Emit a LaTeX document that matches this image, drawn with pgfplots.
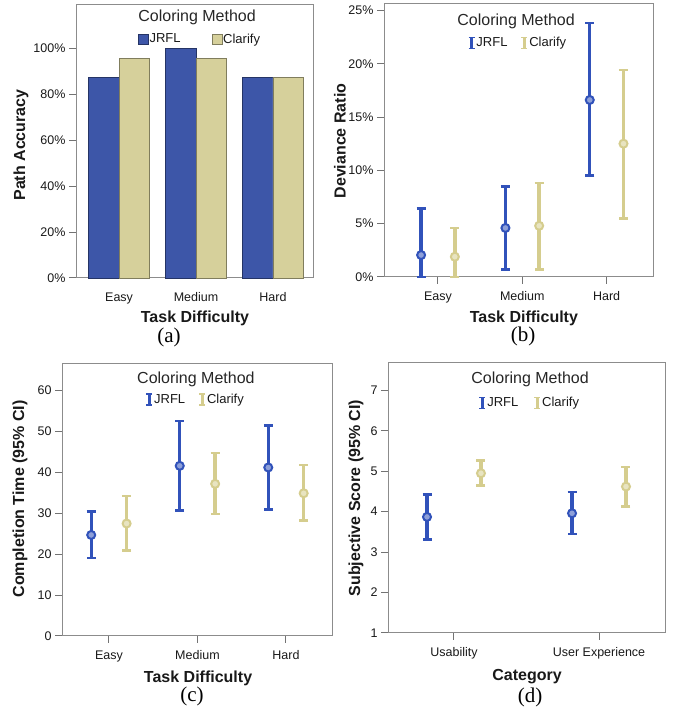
\documentclass[border=0pt]{standalone}
\usepackage{fontspec}
\setmainfont{Liberation Sans}
\newfontfamily\capfont{Liberation Serif}
\usepackage{pgfplots}
\pgfplotsset{compat=1.18}
\usepackage{pgfplotstable}

\definecolor{jrfl}{HTML}{3D56A8}
\definecolor{clar}{HTML}{D6D09B}
\definecolor{jrfleb}{HTML}{3152BA}
\definecolor{clareb}{HTML}{D5CD8E}
\definecolor{boxgray}{HTML}{8C8C8C}

% x = category position +- offset, ep/em = distance to upper/lower CI bound
\pgfplotstableread{
x     y     ep    em
-0.2  2.06  4.34  2.06
0.8   4.6   3.9   3.9
1.8   16.6  7.2   7.1
}\devJ
\pgfplotstableread{
x     y     ep    em
0.2   1.9   2.7   1.9
1.2   4.8   4.0   4.1
2.2   12.5  6.9   7.0
}\devC
\pgfplotstableread{
x     y     ep    em
-0.2  24.7  5.7   5.6
0.8   41.6  11.0  10.9
1.8   41.2  10.3  10.3
}\timeJ
\pgfplotstableread{
x     y     ep    em
0.2   27.5  6.7   6.6
1.2   37.2  7.5   7.4
2.2   34.9  6.9   6.7
}\timeC
\pgfplotstableread{
x       y     ep    em
-0.186  3.87  0.56  0.56
0.814   3.96  0.52  0.51
}\scoreJ
\pgfplotstableread{
x       y     ep    em
0.186   4.95  0.32  0.30
1.186   4.62  0.49  0.49
}\scoreC

\tikzset{ctitle/.style={font=\fontsize{16}{18}\selectfont, text=black!85}}

\pgfplotsset{
  panel/.style={
    scale only axis, clip=false,
    axis line style={boxgray, line width=1pt},
    tick align=outside, ytick pos=left, xtick pos=bottom,
    major tick length=7pt,
    tick style={black!55, line width=1pt},
    ticklabel style={font=\fontsize{12.5}{14}\selectfont, text=black!90},
    xticklabel style={yshift=-4pt},
    label style={font=\bfseries\fontsize{16}{19}\selectfont, text=black!90},
    /pgf/number format/assume math mode=true,
    xtick={0,1,2},
    legend style={draw=none, fill=none, legend columns=2, anchor=center,
      font=\fontsize{13}{15}\selectfont, text=black!90, nodes={inner sep=1pt}},
  },
  eb/.style={only marks, mark=*, mark size=4pt,
    mark options={draw=#1, fill=#1!55!white, line width=2pt},
    error bars/y dir=both, error bars/y explicit,
    error bars/error bar style={#1, line width=3.4pt},
    error bars/error mark options={#1, rotate=90, mark size=4.5pt, line width=2.5pt},
    legend image code/.code={
      \draw[#1, line width=2.8pt] (0pt,-5.5pt) -- (0pt,5.5pt);
      \draw[#1, line width=1.8pt] (-3pt,-5.5pt) -- (3pt,-5.5pt) (-3pt,5.5pt) -- (3pt,5.5pt);}},
  barleg/.style={legend image code/.code={
    \filldraw[fill=#1, draw=#1!60!black, line width=0.6pt] (0pt,-5pt) rectangle (10pt,5pt);}},
}

\begin{document}
\begin{tikzpicture}
\useasboundingbox (0pt,0pt) rectangle (676pt,719pt);

% (a) path accuracy
\begin{axis}[panel, at={(76pt,441pt)}, anchor=south west,
  width=237pt, height=273pt,
  ybar=0pt, bar width=30.5pt,
  xmin=-0.56, xmax=2.52, ymin=0, ymax=119,
  ytick={0,20,...,100}, yticklabels={0\%,20\%,40\%,60\%,80\%,100\%},
  xticklabels={Easy,Medium,Hard}, xtick style={draw=none},
  xlabel={Task Difficulty}, ylabel={Path Accuracy},
  xlabel style={at={(axis description cs:0.502,-0.147)}, anchor=center},
  ylabel style={at={(axis description cs:-0.232,0.487)}, anchor=center},
  legend style={at={(axis description cs:0.521,0.875)},
    /tikz/every even column/.append style={column sep=30pt}}]
\addplot[fill=jrfl, draw=jrfl!60!black, barleg=jrfl] coordinates {(0,87.5) (1,100) (2,87.5)};
\addplot[fill=clar, draw=clar!60!black, barleg=clar] coordinates {(0,95.8) (1,95.8) (2,87.5)};
\legend{JRFL, Clarify}
\node[ctitle] at (axis description cs:0.511,0.956) {Coloring Method};
\end{axis}

% (b) deviance ratio
\begin{axis}[panel, at={(384pt,442pt)}, anchor=south west,
  width=269pt, height=273pt,
  xmin=-0.64, xmax=2.55, ymin=0, ymax=25.6,
  ytick={0,5,...,25}, yticklabels={0\%,5\%,10\%,15\%,20\%,25\%},
  xticklabels={Easy,Medium,Hard},
  xlabel={Task Difficulty}, ylabel={Deviance Ratio},
  xlabel style={at={(axis description cs:0.520,-0.150)}, anchor=center},
  ylabel style={at={(axis description cs:-0.164,0.498)}, anchor=center},
  legend style={at={(axis description cs:0.496,0.857)},
    /tikz/every even column/.append style={column sep=12pt}}]
\addplot[eb=jrfleb] table[x=x, y=y, y error plus=ep, y error minus=em] {\devJ};
\addplot[eb=clareb] table[x=x, y=y, y error plus=ep, y error minus=em] {\devC};
\legend{JRFL, Clarify}
\node[ctitle] at (axis description cs:0.491,0.938) {Coloring Method};
\end{axis}

% (c) completion time
\begin{axis}[panel, at={(62pt,83pt)}, anchor=south west,
  width=270pt, height=272pt,
  xmin=-0.53, xmax=2.52, ymin=0, ymax=66.5,
  ytick={0,10,...,60},
  xticklabels={Easy,Medium,Hard},
  xlabel={Task Difficulty}, ylabel={Completion Time (95\% CI)},
  xlabel style={at={(axis description cs:0.504,-0.154)}, anchor=center},
  ylabel style={at={(axis description cs:-0.156,0.504)}, anchor=center},
  legend style={at={(axis description cs:0.493,0.868)},
    /tikz/every even column/.append style={column sep=12pt}}]
\addplot[eb=jrfleb] table[x=x, y=y, y error plus=ep, y error minus=em] {\timeJ};
\addplot[eb=clareb] table[x=x, y=y, y error plus=ep, y error minus=em] {\timeC};
\legend{JRFL, Clarify}
\node[ctitle] at (axis description cs:0.496,0.945) {Coloring Method};
\end{axis}

% (d) subjective score
\begin{axis}[panel, at={(388pt,86pt)}, anchor=south west,
  width=277pt, height=271pt,
  xmin=-0.455, xmax=1.455, ymin=1, ymax=7.7,
  ytick={1,...,7}, xtick={0,1},
  xticklabels={Usability,User Experience},
  xlabel={Category}, ylabel={Subjective Score (95\% CI)},
  xlabel style={at={(axis description cs:0.502,-0.162)}, anchor=center},
  ylabel style={at={(axis description cs:-0.116,0.498)}, anchor=center},
  legend style={at={(axis description cs:0.51,0.849)},
    /tikz/every even column/.append style={column sep=14pt}}]
\addplot[eb=jrfleb] table[x=x, y=y, y error plus=ep, y error minus=em] {\scoreJ};
\addplot[eb=clareb] table[x=x, y=y, y error plus=ep, y error minus=em] {\scoreC};
\legend{JRFL, Clarify}
\node[ctitle] at (axis description cs:0.513,0.937) {Coloring Method};
\end{axis}

\node[font=\capfont\fontsize{21}{24}\selectfont] at (169pt,382pt) {(a)};
\node[font=\capfont\fontsize{21}{24}\selectfont] at (523pt,383pt) {(b)};
\node[font=\capfont\fontsize{21}{24}\selectfont] at (192pt,23pt) {(c)};
\node[font=\capfont\fontsize{21}{24}\selectfont] at (530pt,22pt) {(d)};
\end{tikzpicture}
\end{document}
